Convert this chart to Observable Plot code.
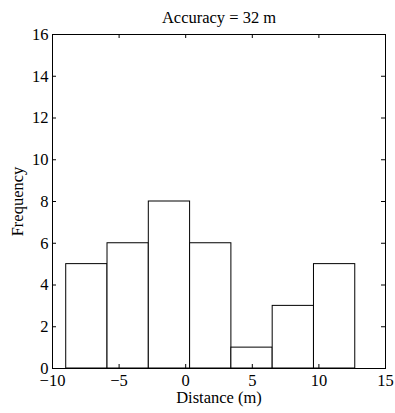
<!DOCTYPE html>
<html>
<head>
<meta charset="utf-8">
<script src="https://cdn.jsdelivr.net/npm/d3@7"></script>
<script src="https://cdn.jsdelivr.net/npm/@observablehq/plot@0.6"></script>
<style>
  html, body { margin: 0; padding: 0; background: #fff; }
  #chart svg { display: block; }
</style>
</head>
<body>
<div id="chart"></div>
<script>
// Histogram bin edges (m) and counts
const binEdges = [-8.97, -5.87, -2.77, 0.33, 3.43, 6.53, 9.63, 12.73];
const counts = [5, 6, 8, 6, 1, 3, 5];
const xTicks = [-10, -5, 0, 5, 10, 15];
const yTicks = [0, 2, 4, 6, 8, 10, 12, 14, 16];
const titleText = "Accuracy = 32 m";
const xLabel = "Distance (m)";
const yLabel = "Frequency";

const bins = counts.map((c, i) => ({x1: binEdges[i], x2: binEdges[i + 1], y: c}));

const W = 395, H = 413;
const mL = 52, mR = 10, mT = 34, mB = 45;
const pw = W - mL - mR, ph = H - mT - mB;
const tickLen = 4;
const fs = 16.5;
const font = "'Liberation Serif', 'Times New Roman', serif";

const chart = Plot.plot({
  width: W,
  height: H,
  marginLeft: mL,
  marginRight: mR,
  marginTop: mT,
  marginBottom: mB,
  style: {fontFamily: font, fontSize: fs + "px", background: "#fff", color: "#000"},
  x: {domain: [-10, 15]},
  y: {domain: [0, 16]},
  marks: [
    Plot.rectY(bins, {x1: "x1", x2: "x2", y: "y", fill: "white", stroke: "black", strokeWidth: 1}),
    // inward ticks: bottom, top, left, right
    Plot.tickX(xTicks, {x: d => d, insetTop: ph - tickLen, stroke: "black"}),
    Plot.tickX(xTicks, {x: d => d, insetBottom: ph - tickLen, stroke: "black"}),
    Plot.tickY(yTicks, {y: d => d, insetRight: pw - tickLen, stroke: "black"}),
    Plot.tickY(yTicks, {y: d => d, insetLeft: pw - tickLen, stroke: "black"}),
    Plot.frame({stroke: "black", strokeWidth: 1}),
    Plot.axisX({ticks: xTicks, tickSize: 0, tickPadding: 6, label: null, fontSize: fs}),
    Plot.axisY({ticks: yTicks, tickSize: 0, tickPadding: 4, label: null, fontSize: fs}),
    Plot.text([titleText], {frameAnchor: "top", lineAnchor: "middle", dy: -16.6, fontSize: fs, fill: "black"}),
    Plot.text([xLabel], {frameAnchor: "bottom", lineAnchor: "middle", dy: 29.4, fontSize: fs, fill: "black"}),
    Plot.text([yLabel], {frameAnchor: "left", lineAnchor: "middle", textAnchor: "middle", dx: -35, rotate: -90, fontSize: fs, fill: "black"})
  ]
});
document.getElementById("chart").appendChild(chart);
</script>
</body>
</html>
